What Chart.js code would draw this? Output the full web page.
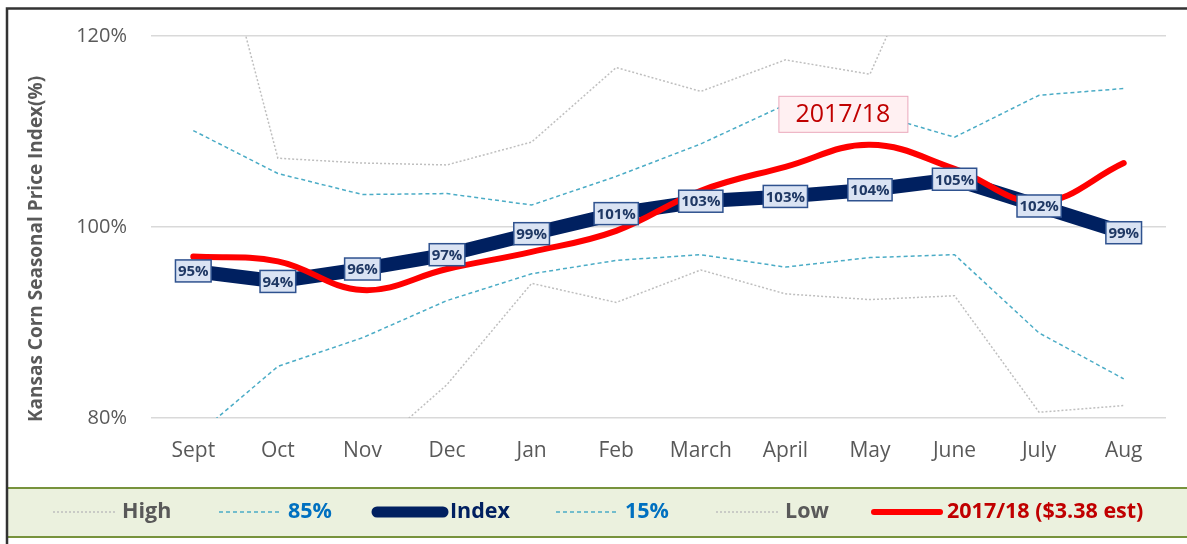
<!DOCTYPE html>
<html>
<head>
<meta charset="utf-8">
<title>Kansas Corn Seasonal Price Index</title>
<script src="https://cdn.jsdelivr.net/npm/chart.js@4.4.0/dist/chart.umd.min.js"></script>
<style>
  html, body { margin: 0; padding: 0; background: #fff; }
  #wrap { width: 1187px; height: 544px; position: relative; }
</style>
</head>
<body>
<div id="wrap"><canvas id="myChart"></canvas></div>
<script>
// values (percent of yearly average)
const months = ['Sept', 'Oct', 'Nov', 'Dec', 'Jan', 'Feb', 'March', 'April', 'May', 'June', 'July', 'Aug'];
const highVals = [141, 107.2, 106.7, 106.5, 108.9, 116.7, 114.2, 117.5, 116.0, 136, 128, 126];
const p85Vals = [110.1, 105.6, 103.4, 103.5, 102.3, 105.3, 108.7, 112.8, 112.0, 109.4, 113.8, 114.5];
const indexVals = [95.4, 94.3, 95.6, 97.1, 99.3, 101.4, 102.7, 103.2, 103.9, 105.0, 102.2, 99.4];
const p15Vals = [77.9, 85.4, 88.4, 92.3, 95.1, 96.5, 97.1, 95.8, 96.8, 97.1, 88.9, 84.1];
const lowVals = [70, 72, 75.7, 83.5, 94.1, 92.1, 95.5, 93.0, 92.4, 92.8, 80.6, 81.3];
const yearVals = [96.9, 96.4, 93.4, 95.6, 97.4, 99.6, 103.8, 106.3, 108.6, 106.1, 102.6, 106.7];
const yTicks = [80, 100, 120];

const seriesNames = ['High', '85%', 'Index', '15%', 'Low', '2017/18 ($3.38 est)'];
const legendText = ['#595959', '#0070c0', '#002060', '#0070c0', '#595959', '#c00000'];
const legendX = [53, 219, 377, 556, 716, 874];
const yTitle = 'Kansas Corn Seasonal Price Index(%)';

Chart.defaults.font.family = "'Open Sans', sans-serif";

// boxes with the rounded index value on each point, plus the 2017/18 note
const indexLabels = {
  id: 'indexLabels',
  afterDatasetsDraw(chart) {
    const ctx = chart.ctx;
    const meta = chart.getDatasetMeta(2);
    ctx.save();
    ctx.font = 'bold 15px "Open Sans"';
    ctx.textAlign = 'center';
    ctx.textBaseline = 'middle';
    meta.data.forEach(function(pt, i) {
      let txt = Math.round(indexVals[i]) + '%';
      let w = ctx.measureText(txt).width + 5;
      let h = 22;
      ctx.fillStyle = '#dae3f3';
      ctx.fillRect(pt.x - w / 2, pt.y - h / 2, w, h);
      ctx.strokeStyle = '#2f528f';
      ctx.lineWidth = 1.5;
      ctx.strokeRect(pt.x - w / 2, pt.y - h / 2, w, h);
      ctx.fillStyle = '#1f3864';
      ctx.fillText(txt, pt.x, pt.y + 1);
    });

    // series note, placed between April and May
    let cx = chart.scales.x.getPixelForValue(7.68);
    let cy = chart.scales.y.getPixelForValue(111.8);
    ctx.fillStyle = '#fff0f2';
    ctx.fillRect(cx - 64, cy - 18, 129, 36);
    ctx.strokeStyle = '#eaa8bc';
    ctx.lineWidth = 1;
    ctx.strokeRect(cx - 64, cy - 18, 129, 36);
    ctx.font = '25px "Open Sans"';
    ctx.fillStyle = '#c00000';
    ctx.fillText('2017/18', cx, cy + 1);
    ctx.restore();
  }
};

// frame, axis title and the green legend strip at the bottom
const frameLegend = {
  id: 'frameLegend',
  afterDraw(chart) {
    const ctx = chart.ctx;
    ctx.save();
    ctx.fillStyle = '#ebf1de';
    ctx.fillRect(8, 488, 1179, 49);
    ctx.strokeStyle = '#77933c';
    ctx.lineWidth = 2;
    ctx.beginPath();
    ctx.moveTo(8, 488); ctx.lineTo(1187, 488);
    ctx.moveTo(8, 537); ctx.lineTo(1187, 537);
    ctx.stroke();

    ctx.strokeStyle = '#333333';
    ctx.lineWidth = 2.5;
    ctx.beginPath();
    ctx.moveTo(7, 544); ctx.lineTo(7, 8.5); ctx.lineTo(1187, 8.5);
    ctx.stroke();

    // y axis title (sits a bit lower than the plot centre, as in Excel)
    ctx.save();
    ctx.translate(37, 249);
    ctx.rotate(-Math.PI / 2);
    ctx.font = 'bold 19px "Open Sans"';
    ctx.fillStyle = '#595959';
    ctx.textAlign = 'center';
    ctx.textBaseline = 'middle';
    ctx.fillText(yTitle, 0, 0);
    ctx.restore();

    ctx.font = 'bold 21.5px "Open Sans"';
    ctx.textBaseline = 'middle';
    ctx.textAlign = 'left';
    chart.data.datasets.forEach(function(ds, i) {
      let x = legendX[i];
      let len = (i == 2 || i == 5) ? 66 : 62;
      ctx.strokeStyle = ds.borderColor;
      ctx.lineWidth = i == 2 ? 11 : (i == 5 ? 6 : 1.5);
      ctx.lineCap = (i == 2 || i == 5) ? 'round' : 'butt';
      ctx.setLineDash(ds.borderDash || []);
      ctx.beginPath();
      ctx.moveTo(x, 512);
      ctx.lineTo(x + len, 512);
      ctx.stroke();
      ctx.setLineDash([]);
      ctx.fillStyle = legendText[i];
      ctx.fillText(ds.label, x + len + 7, 512);
    });
    ctx.restore();
  }
};

var ctx1 = document.getElementById('myChart').getContext('2d');

var chart1 = new Chart(ctx1, {
  type: 'line',
  data: {
    labels: months,
    datasets: [{
      label: seriesNames[0],
      data: highVals,
      borderColor: '#bfbfbf',
      borderWidth: 1.5,
      borderDash: [2, 2],
      order: 2
    }, {
      label: seriesNames[1],
      data: p85Vals,
      borderColor: '#4bacc6',
      borderWidth: 1.5,
      borderDash: [4, 3],
      order: 2
    }, {
      label: seriesNames[2],
      data: indexVals,
      borderColor: '#002060',
      borderWidth: 14,
      borderJoinStyle: 'round',
      order: 1
    }, {
      label: seriesNames[3],
      data: p15Vals,
      borderColor: '#4bacc6',
      borderWidth: 1.5,
      borderDash: [4, 3],
      order: 2
    }, {
      label: seriesNames[4],
      data: lowVals,
      borderColor: '#bfbfbf',
      borderWidth: 1.5,
      borderDash: [2, 2],
      order: 2
    }, {
      label: seriesNames[5],
      data: yearVals,
      borderColor: '#ff0000',
      borderWidth: 6,
      borderCapStyle: 'round',
      tension: 0.4,
      order: 0
    }]
  },
  options: {
    responsive: true,
    maintainAspectRatio: false,
    animation: false,
    elements: { point: { radius: 0 } },
    layout: { padding: { left: 0, right: 21, top: 33, bottom: 0 } },
    plugins: {
      legend: { display: false },
      tooltip: { enabled: false }
    },
    scales: {
      x: {
        offset: true,
        grid: { display: false, offset: true },
        border: { display: false },
        ticks: { color: '#595959', font: { size: 21 }, padding: 12 },
        afterFit: function(scale) { scale.height = 126; }
      },
      y: {
        min: 80,
        max: 120,
        afterBuildTicks: function(scale) {
          scale.ticks = yTicks.map(function(v) { return { value: v }; });
        },
        grid: { color: '#d9d9d9', lineWidth: 1.5, drawTicks: false },
        border: { display: false },
        ticks: {
          color: '#595959',
          font: { size: 20 },
          padding: 24,
          callback: function(v) { return v + '%'; }
        },
        afterFit: function(scale) { scale.width = 151; }
      }
    }
  },
  plugins: [indexLabels, frameLegend]
});
</script>
</body>
</html>
